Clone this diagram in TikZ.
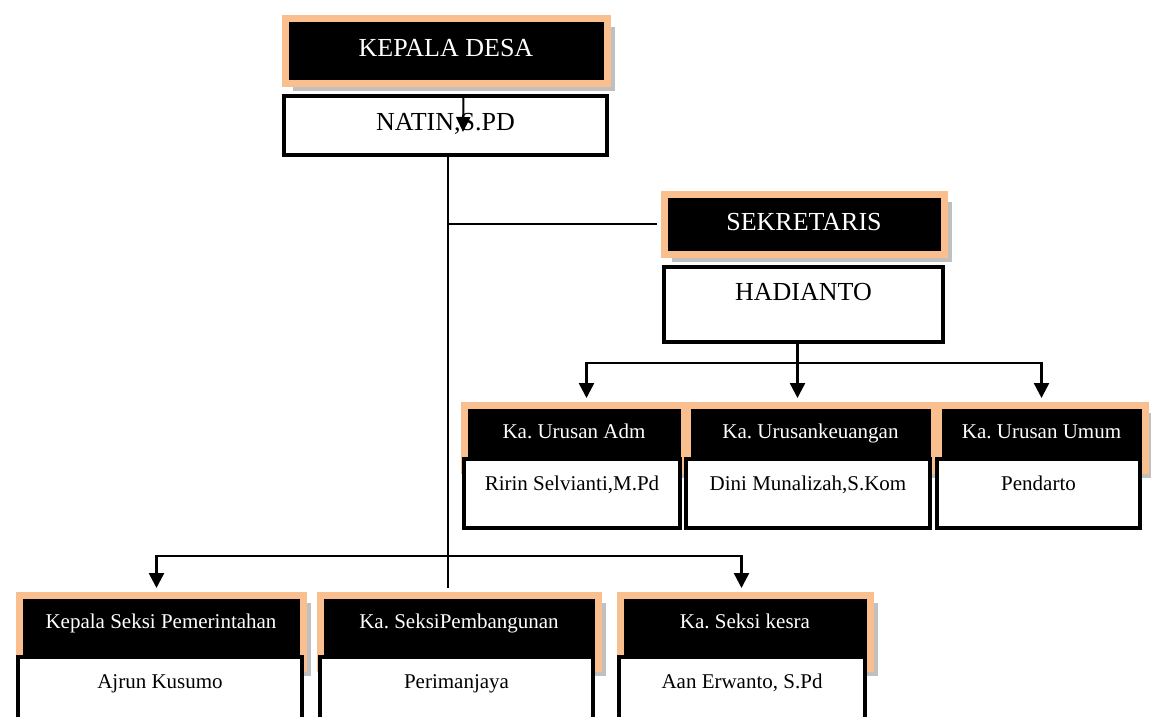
\documentclass[tikz,border=0pt]{standalone}
\usepackage{fontspec}
\setmainfont{Liberation Serif}
\usetikzlibrary{arrows.meta,shadows}
\definecolor{hdrorange}{HTML}{FABF8F}
\definecolor{hdrshadow}{HTML}{C0C0C0}
\frenchspacing

\begin{document}
\begin{tikzpicture}[
  x=1pt, y=-1pt,
  hdr/.style={anchor=north west, draw=hdrorange, line width=7pt, fill=black, text=white, inner sep=0pt,
    drop shadow={shadow xshift=8pt, shadow yshift=-8pt, fill=hdrshadow, opacity=1}},
  namebox/.style={anchor=north west, draw=black, line width=4pt, fill=white, inner sep=0pt},
  big/.style={font=\fontsize{26}{30}\selectfont},
  small/.style={font=\fontsize{21}{25}\selectfont},
  urusan/.style={hdr, small, text height=33.5pt, text depth=31.5pt},
  urusanname/.style={namebox, small, text height=31pt, text depth=38pt},
  seksi/.style={hdr, small, text height=33.5pt, text depth=39.5pt},
  seksiname/.style={namebox, small, text height=31pt, text depth=54pt},
  line/.style={line width=2.5pt},
  arr/.style={line width=2.5pt, -{Triangle[length=15pt,width=15pt]}}
]
\clip (0,0) rectangle (1151,717);

% kepala desa and sekretaris
\node[hdr, big, minimum width=322pt, text height=37.5pt, text depth=26.5pt] (kades) at (281.5,15.5) {KEPALA DESA};
\node[namebox, big, minimum width=323pt, text height=34pt, text depth=25pt] (natin) at (282,94) {NATIN,S.PD};
\node[hdr, big, minimum width=280pt, text height=36.5pt, text depth=23.5pt] (sek) at (660.5,190.5) {SEKRETARIS};
\node[namebox, big, minimum width=279pt, text height=33pt, text depth=42pt] (hadi) at (662,265) {HADIANTO};

% urusan
\node[urusan, minimum width=220pt] (adm) at (460.5,401.5) {Ka. Urusan Adm};
\node[urusan, minimum width=247pt] (keu) at (683.5,401.5) {Ka. Urusankeuangan};
\node[urusan, minimum width=207pt] (umum) at (934.5,401.5) {Ka. Urusan Umum};
\node[urusanname, minimum width=216pt] (ririn) at (462,457) {Ririn Selvianti,M.Pd};
\node[urusanname, minimum width=244pt] (dini) at (684,457) {Dini Munalizah,S.Kom};
\node[urusanname, minimum width=203pt] (pendarto) at (935,457) {Pendarto};

% seksi
\node[seksi, minimum width=284pt] (pem) at (15.5,591.5) {Kepala Seksi Pemerintahan};
\node[seksi, minimum width=278pt] (pbg) at (316.5,591.5) {Ka. SeksiPembangunan};
\node[seksi, minimum width=250pt] (kesra) at (616.5,591.5) {Ka. Seksi kesra};
\node[seksiname, minimum width=284pt] (ajrun) at (16,655) {Ajrun Kusumo};
\node[seksiname, minimum width=273pt] (peri) at (318,655) {Perimanjaya};
\node[seksiname, minimum width=246pt] (aan) at (617,655) {Aan Erwanto, S.Pd};

% connectors
\draw[line, line width=2pt, -{Triangle[length=15pt,width=14pt]}] ([shift={(17.5,10.5)}]kades.south) -- ([shift={(17.5,6.5)}]natin.center);
\coordinate (spine) at ([xshift=2.5pt]natin.south);
\draw[line, line width=2pt, shorten >=3.5pt] (spine) -- (spine |- pbg.north);
\coordinate (jsek) at (spine |- sek.west);
\draw[line, line width=2pt, shorten >=3.5pt] (jsek) -- (sek.west);
\coordinate (jbot) at (spine |- 0,556);
\draw[arr, shorten >=3.5pt] (jbot) -| ([xshift=-4.5pt]pem.north);
\draw[arr, shorten >=3.5pt] (jbot) -| ([xshift=-3.5pt]kesra.north);
\draw[line] ([xshift=-6pt]hadi.south) -- ++(0,19) coordinate (jhad);
\draw[arr, shorten >=3.5pt] (jhad) -- (jhad |- keu.north);
\draw[arr, shorten >=3.5pt] (jhad) -| ([xshift=12.5pt]adm.north);
\draw[arr, shorten >=3.5pt] (jhad) -| (umum.north);
\end{tikzpicture}
\end{document}
